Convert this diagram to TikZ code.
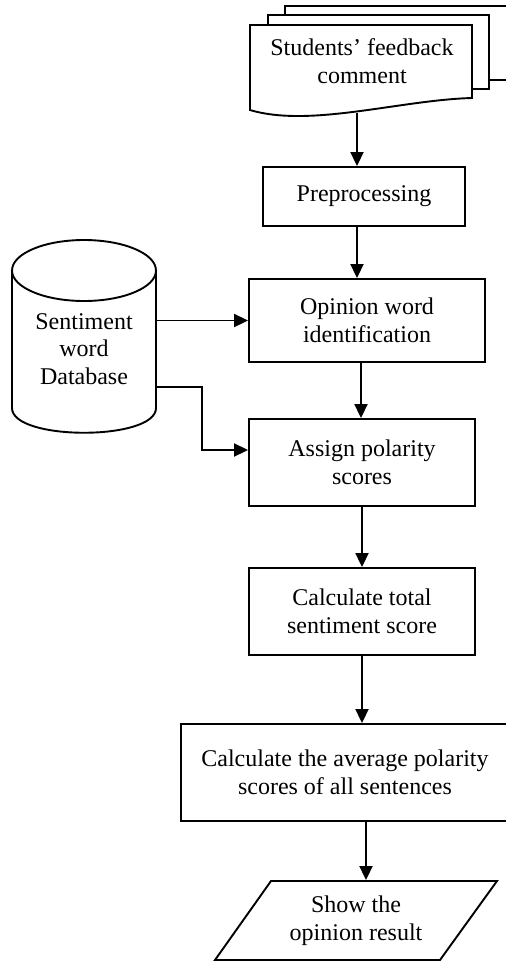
\documentclass[tikz,border=0pt]{standalone}
\usepackage{fontspec}
\setmainfont{Liberation Serif}
\usetikzlibrary{arrows.meta}
\tikzset{procbox/.style={draw, rectangle, align=center, inner sep=0pt}}
\tikzset{plaintext/.style={align=center, inner sep=0pt}}

\begin{document}
\begin{tikzpicture}[x=1pt, y=-1pt, line width=1.9pt, >={Triangle[width=13pt,length=14pt]}, font=\fontsize{24}{27.5}\selectfont]
        \useasboundingbox (0,0) rectangle (506,962);

        % stacked documents
        \draw[fill=white] (285,6) rectangle (520,80);
        \draw[fill=white] (268,15) rectangle (489,89);
        \draw[fill=white] (250,25) -- (472,25) -- (472,98) .. controls (400,100) and (310,128) .. (250,110) -- cycle;
        \node[plaintext] (doc) at (362,61) {Students’ feedback\\comment};
        \coordinate (docout) at (357,113);

        % database
        \draw (12,270) -- (12,408) .. controls (12,441) and (156,441) .. (156,408) -- (156,270);
        \draw (84,270.5) ellipse [x radius=72pt, y radius=30.5pt];
        \node[plaintext, minimum width=144pt] (db) at (84,349) {Sentiment\\word\\Database};
        \coordinate (dbout) at (156,387);

        \node[procbox, minimum width=202pt, minimum height=59pt] (prep)   at (364,196.5) {Preprocessing};
        \node[procbox, minimum width=236pt, minimum height=83pt] (opin)   at (367,320.5) {Opinion word\\identification};
        \node[procbox, minimum width=226pt, minimum height=87pt] (assign) at (362,462.5) {Assign polarity\\scores};
        \node[procbox, minimum width=226pt, minimum height=87pt] (calc)   at (362,611.5) {Calculate total\\sentiment score};
        \node[procbox, minimum width=328pt, minimum height=97pt] (avg)    at (345,772.5) {Calculate the average polarity\\scores of all sentences};

        % output
        \draw (271,881) -- (497,881) -- (440,960) -- (215,960) -- cycle;
        \node[plaintext, minimum height=79pt] (show) at (356,920.5) {Show the\\opinion result};

        \draw[->] (docout) -- (docout |- prep.north);
        \draw[->] (prep.south -| docout) -- (docout |- opin.north);
        \draw[->] ([xshift=-6pt]opin.south) -- ([xshift=-6pt]opin.south |- assign.north);
        \draw[->] (assign.south) -- (calc.north);
        \draw[->] (calc.south) -- (calc.south |- avg.north);
        \draw[->] ([xshift=4pt]calc.south |- avg.south) -- ([xshift=4pt]calc.south |- show.north);

        \draw[->] (db.east |- opin.west) -- (opin.west);
        \draw[->] (dbout) -- ++(46,0) |- ([yshift=12.5pt]assign.west);
\end{tikzpicture}
\end{document}
